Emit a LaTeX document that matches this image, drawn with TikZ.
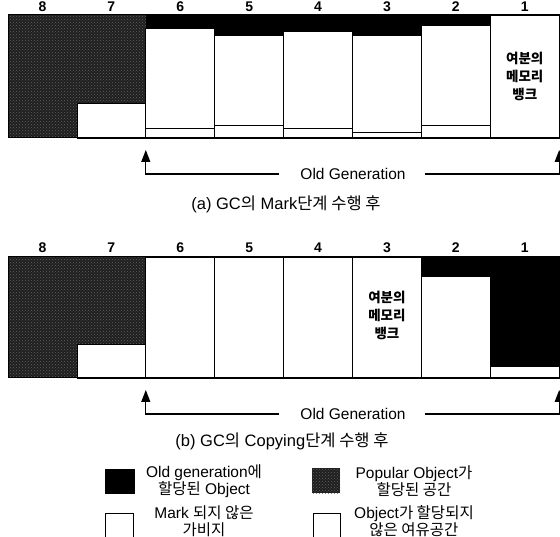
\documentclass[tikz,border=0pt]{standalone}
\usepackage{fontspec}
\setmainfont{Liberation Sans}
\newfontfamily\kr{Noto Sans CJK KR}
\usetikzlibrary{arrows.meta,patterns}
\newcommand{\ko}[1]{{\kr #1}}
\begin{document}
\begin{tikzpicture}[x=1pt,y=-1pt,
  blk/.style={fill=black},
  pop/.style={fill=black!88, postaction={pattern=crosshatch dots, pattern color=black!62}},
  wbox/.style={draw=black, line width=0.8pt, fill=white},
  frame/.style={draw=black, line width=1pt},
  collab/.style={font=\bfseries\fontsize{14}{14}\selectfont, inner sep=0pt},
  txt/.style={font=\fontsize{15.5}{17}\selectfont, align=center, inner sep=0pt},
  captxt/.style={font=\fontsize{16.5}{17}\selectfont, align=center, inner sep=0pt},
  leg/.style={font=\fontsize{15.5}{16.5}\selectfont, align=center, inner sep=0pt},
  bank/.style={font=\kr\bfseries\fontsize{13.5}{18}\selectfont, align=center, inner sep=0pt},
  arr/.style={line width=1.2pt, -{Triangle[width=9pt,length=12pt]}},
  legsq/.style={minimum width=#1, minimum height=25pt, anchor=north west, inner sep=0pt, outer sep=0pt}
]
\useasboundingbox (0,0) rectangle (560,537);
\clip (0,0) rectangle (560,537);

% ---------- (a) top diagram ----------
\foreach \l/\x in {8/42.45,7/111.35,6/180.25,5/249.15,4/318.05,3/386.95,2/455.85,1/524.75}
  \node[collab, anchor=base] (ta\l) at (\x,12) {\l};

\fill[pop] (8,15) rectangle (76.9,138);
\fill[pop] (76.9,15) rectangle (145.8,103);
\draw[wbox] (76.9,103) rectangle (145.8,138);
\fill[blk] (145.8,15) rectangle (490.3,40);
\draw[wbox] (145.8,28) rectangle (214.7,128);
\draw[wbox] (145.8,128) rectangle (214.7,138);
\draw[wbox] (214.7,35) rectangle (283.6,125);
\draw[wbox] (214.7,125) rectangle (283.6,138);
\draw[wbox] (283.6,31) rectangle (352.5,128);
\draw[wbox] (283.6,128) rectangle (352.5,138);
\draw[wbox] (352.5,35) rectangle (421.4,132);
\draw[wbox] (352.5,132) rectangle (421.4,138);
\draw[wbox] (421.4,25) rectangle (490.3,125);
\draw[wbox] (421.4,125) rectangle (490.3,138);
\draw[wbox] (490.3,15) rectangle (559.2,138);
\node[bank] (bankA) at (524.75,76) {여분의\\메모리\\뱅크};
\draw[frame] (8,15) rectangle (559.2,138);

\node[txt] (ogA) at (353,174) {Old Generation};
\coordinate (tipAL) at (145.8,150);
\coordinate (tipAR) at (559.2,150);
\draw[arr, shorten <=21pt] (ogA.west) -| (tipAL);
\draw[arr, shorten <=19pt] (ogA.east) -| (tipAR);
\node[captxt] (capA) at (286,204) {(a) GC\ko{의} Mark\ko{단계 수행 후}};

% ---------- (b) bottom diagram ----------
\foreach \l/\x in {8/42.45,7/111.35,6/180.25,5/249.15,4/318.05,3/386.95,2/455.85,1/524.75}
  \node[collab, anchor=base] (tb\l) at (\x,253) {\l};

\fill[pop] (8,257) rectangle (76.9,378);
\fill[pop] (76.9,257) rectangle (145.8,344);
\draw[wbox] (76.9,344) rectangle (145.8,378);
\draw[wbox] (145.8,257) rectangle (214.7,378);
\draw[wbox] (214.7,257) rectangle (283.6,378);
\draw[wbox] (283.6,257) rectangle (352.5,378);
\draw[wbox] (352.5,257) rectangle (421.4,378);
\node[bank] (bankB) at (386.95,315) {여분의\\메모리\\뱅크};
\fill[blk] (421.4,257) rectangle (559.2,276);
\draw[wbox] (421.4,276) rectangle (490.3,378);
\fill[blk] (490.3,257) rectangle (559.2,366);
\draw[wbox] (490.3,366) rectangle (559.2,378);
\draw[frame] (8,257) rectangle (559.2,378);

\node[txt] (ogB) at (353,414) {Old Generation};
\coordinate (tipBL) at (145.8,390);
\coordinate (tipBR) at (559.2,390);
\draw[arr, shorten <=21pt] (ogB.west) -| (tipBL);
\draw[arr, shorten <=19pt] (ogB.east) -| (tipBR);
\node[captxt] (capB) at (282,441) {(b) GC\ko{의} Copying\ko{단계 수행 후}};

% ---------- legend ----------
\node[legsq=30pt, blk] (lg1) at (105,469) {};
\node[leg] (lt1) at (204,481) {Old generation\ko{에}\\\ko{할당된} Object};
\node[legsq=28pt, pop] (lg2) at (312,468) {};
\node[leg] (lt2) at (414,481) {Popular Object\ko{가}\\\ko{할당된 공간}};
\node[legsq=28pt, wbox, minimum height=32pt] (lg3) at (105,513) {};
\node[leg] (lt3) at (204,521) {Mark \ko{되지 않은}\\\ko{가비지}};
\node[legsq=27pt, wbox, minimum height=32pt] (lg4) at (313,513) {};
\node[leg] (lt4) at (414,521) {Object\ko{가 할당되지}\\\ko{않은 여유공간}};
\end{tikzpicture}
\end{document}
